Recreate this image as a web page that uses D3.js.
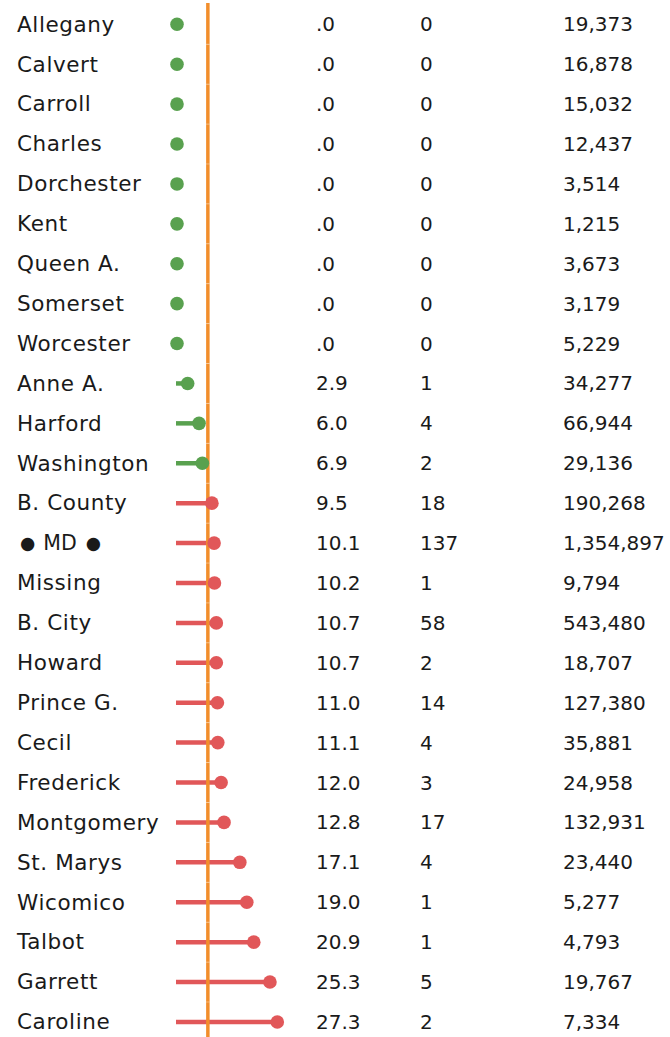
<!DOCTYPE html>
<html>
<head>
<meta charset="utf-8">
<script src="https://cdn.jsdelivr.net/npm/d3@7"></script>
<style>
  html, body { margin: 0; padding: 0; background: #fff; }
  svg { display: block; }
  text { font-family: "DejaVu Sans", sans-serif; fill: #1a1a1a; }
</style>
</head>
<body>
<script>
const counties = ["Allegany","Calvert","Carroll","Charles","Dorchester","Kent","Queen A.","Somerset","Worcester","Anne A.","Harford","Washington","B. County","MD","Missing","B. City","Howard","Prince G.","Cecil","Frederick","Montgomery","St. Marys","Wicomico","Talbot","Garrett","Caroline"];
const highlighted = ["MD"];
const rates = [0,0,0,0,0,0,0,0,0,2.9,6.0,6.9,9.5,10.1,10.2,10.7,10.7,11.0,11.1,12.0,12.8,17.1,19.0,20.9,25.3,27.3];
const counts = [0,0,0,0,0,0,0,0,0,1,4,2,18,137,1,58,2,14,4,3,17,4,1,1,5,2];
const populations = [19373,16878,15032,12437,3514,1215,3673,3179,5229,34277,66944,29136,190268,1354897,9794,543480,18707,127380,35881,24958,132931,23440,5277,4793,19767,7334];
const referenceRate = 8.4;

const W = 670, H = 1037;
const svg = d3.select("body").append("svg").attr("width", W).attr("height", H);

const y = d3.scaleBand().domain(counties).range([4.35, 1041.9]).paddingInner(0).paddingOuter(0);
const x = d3.scaleLinear().domain([0, 27.3]).range([177, 277.3]);

const green = "#59A14F", red = "#E15759", orange = "#F28E2B";
const rows = counties.map((c, i) => ({ c, r: rates[i], n: counts[i], p: populations[i] }));
const yc = d => y(d.c) + y.bandwidth() / 2;
const col = d => d.r < referenceRate ? green : red;

// lollipop stems
svg.append("g").selectAll("line").data(rows.filter(d => d.r > 0)).join("line")
  .attr("x1", x(0) - 1).attr("x2", d => x(d.r))
  .attr("y1", yc).attr("y2", yc)
  .attr("stroke", col).attr("stroke-width", 4.5);

// reference line, per row
const ref = svg.append("g");
ref.selectAll("line").data(rows).join("line")
  .attr("x1", x(referenceRate)).attr("x2", x(referenceRate))
  .attr("y1", (d, i) => i === 0 ? 3 : y(d.c))
  .attr("y2", d => y(d.c) + y.bandwidth())
  .attr("stroke", orange).attr("stroke-width", 3.5);
ref.selectAll("rect").data(rows.slice(1)).join("rect")
  .attr("x", x(referenceRate) - 1.75).attr("width", 3.5)
  .attr("y", d => y(d.c) - 0.5).attr("height", 1)
  .attr("fill", "#fff").attr("opacity", 0.35);

// dots
svg.append("g").selectAll("circle").data(rows).join("circle")
  .attr("cx", d => x(d.r)).attr("cy", yc).attr("r", 6.8)
  .attr("fill", col);

const fmtRate = v => v === 0 ? ".0" : d3.format(".1f")(v);
const fmtPop = d3.format(",");

const txt = svg.append("g").style("font-size", "20px");
const names = txt.selectAll("text.name").data(rows).join("text").attr("class", "name")
  .attr("x", 17).attr("y", d => yc(d) + 7.3)
  .attr("xml:space", "preserve")
  .style("font-size", "21.5px")
  .style("letter-spacing", "0.6px");
names.filter(d => !highlighted.includes(d.c)).text(d => d.c);
names.filter(d => highlighted.includes(d.c)).each(function(d) {
  const t = d3.select(this).style("letter-spacing", "0px");
  t.append("tspan").attr("dx", 3).attr("dy", -1.5).style("font-size", "17.5px").text("●");
  t.append("tspan").attr("dx", 8).attr("dy", 1.5).style("font-size", "20.5px").text(d.c);
  t.append("tspan").attr("dx", 9).attr("dy", -1.5).style("font-size", "17.5px").text("●");
});
txt.selectAll("text.rate").data(rows).join("text").attr("class", "rate")
  .attr("x", 316).attr("y", d => yc(d) + 7)
  .text(d => fmtRate(d.r));
txt.selectAll("text.cnt").data(rows).join("text").attr("class", "cnt")
  .attr("x", 420).attr("y", d => yc(d) + 7)
  .text(d => d.n);
txt.selectAll("text.pop").data(rows).join("text").attr("class", "pop")
  .attr("x", 563).attr("y", d => yc(d) + 7)
  .text(d => fmtPop(d.p));
</script>
</body>
</html>
